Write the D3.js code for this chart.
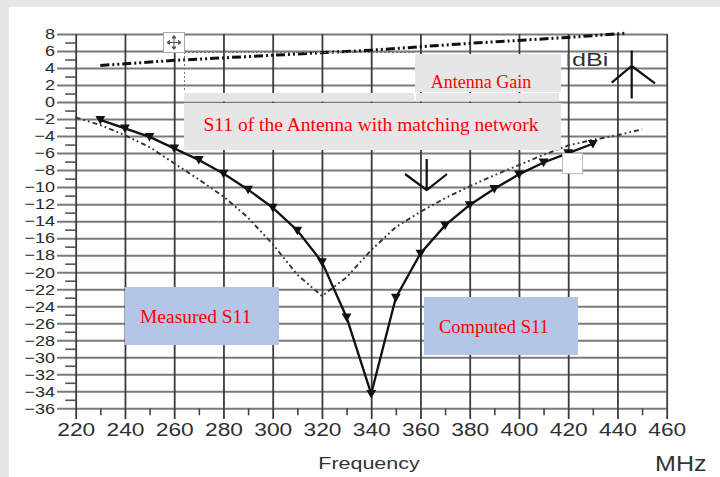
<!DOCTYPE html>
<html>
<head>
<meta charset="utf-8">
<script src="https://cdn.jsdelivr.net/npm/d3@7"></script>
<style>
  body { margin: 0; background: #e6e6e6; }
  svg { display: block; }
</style>
</head>
<body>
<div id="chart"></div>
<script>
// S11 / gain chart

// ticks
var freqTicks = [220, 240, 260, 280, 300, 320, 340, 360, 380, 400, 420, 440, 460];
var freqMinor = [230, 250, 270, 290, 310, 330, 350, 370, 390, 410, 430, 450];
var levelTicks = [8, 6, 4, 2, 0, -2, -4, -6, -8, -10, -12, -14, -16, -18, -20, -22, -24, -26, -28, -30, -32, -34, -36];
var levelMinor = [7, 5, 3, 1, -1, -3, -5, -7, -9, -11, -13, -15, -17, -19, -21, -23, -25, -27, -29, -31, -33, -35];

// computed S11 (solid, triangles)
var computedFreq = [230, 240, 250, 260, 270, 280, 290, 300, 310, 320, 330, 340, 350, 360, 370, 380, 390, 400, 410, 420, 430];
var computedS11 = [-2.1, -3.1, -4.1, -5.45, -6.8, -8.4, -10.3, -12.4, -15.1, -18.8, -25.3, -34.3, -23.0, -17.8, -14.5, -12.1, -10.2, -8.5, -7.1, -6.0, -4.9];

// measured S11 (dash dot dot)
var measuredFreq = [220, 230, 240, 250, 260, 270, 280, 290, 300, 310, 320, 330, 340, 350, 360, 370, 380, 390, 400, 410, 420, 430, 440, 450];
var measuredS11 = [-1.8, -2.7, -3.9, -5.3, -7.2, -9.1, -11.1, -13.6, -16.7, -20.3, -22.8, -20.6, -17.4, -14.7, -12.9, -11.3, -9.9, -8.6, -7.4, -6.2, -5.1, -4.45, -3.9, -3.2];

// antenna gain, dBi
var gainFreq = [230, 260, 300, 340, 380, 420, 444];
var gainDbi = [4.3, 4.9, 5.5, 6.1, 6.9, 7.6, 8.1];

var W = 720, H = 477;
var sansFont = "'Liberation Sans', Arial, sans-serif";
var serifFont = "'Liberation Serif', 'Times New Roman', serif";

var svg = d3.select("#chart").append("svg")
    .attr("width", W)
    .attr("height", H);

svg.append("rect").attr("width", W).attr("height", H).attr("fill", "#e6e6e6");
svg.append("rect").attr("x", 9).attr("y", 7).attr("width", W - 9).attr("height", H - 7).attr("fill", "#fff");

var x = d3.scaleLinear().domain([220, 460]).range([75.7, 666.7]);
var y = d3.scaleLinear().domain([-36, 8]).range([408.3, 34]);

// widen text like the original (its glyphs look stretched)
function stretch(sel, k) {
    sel.each(function () {
        var w = this.getComputedTextLength();
        d3.select(this).attr("textLength", w * k).attr("lengthAdjust", "spacingAndGlyphs");
    });
}

// horizontal grid + y labels
var gy = svg.append("g")
    .attr("transform", "translate(" + x(460) + ",0)")
    .call(d3.axisLeft(y).tickValues(levelTicks).tickSize(x(460) - 57).tickPadding(2));
gy.select(".domain").remove();
gy.selectAll("line").attr("stroke", "#7a7a7a").attr("stroke-width", 2);
gy.selectAll("text")
    .attr("fill", "#2a2a2a")
    .style("font-family", sansFont)
    .style("font-size", "15px")
    .call(stretch, 1.2);

// minor y ticks
var gym = svg.append("g")
    .attr("transform", "translate(" + x(220) + ",0)")
    .call(d3.axisLeft(y).tickValues(levelMinor).tickSize(10.5).tickFormat(""));
gym.select(".domain").remove();
gym.selectAll("line").attr("stroke", "#555").attr("stroke-width", 1.6);

// vertical grid + x labels
var gx = svg.append("g")
    .attr("transform", "translate(0," + y(8) + ")")
    .call(d3.axisBottom(x).tickValues(freqTicks).tickSize(419 - y(8)).tickPadding(5));
gx.select(".domain").remove();
gx.selectAll("line").attr("stroke", "#3c3c3c").attr("stroke-width", 1.8);
gx.selectAll("text")
    .attr("fill", "#2f2f2f")
    .style("font-family", sansFont)
    .style("font-size", "17.5px")
    .call(stretch, 1.3);

// minor x ticks
var gxm = svg.append("g")
    .attr("transform", "translate(0," + y(-36) + ")")
    .call(d3.axisBottom(x).tickValues(freqMinor).tickSize(7).tickFormat(""));
gxm.select(".domain").remove();
gxm.selectAll("line").attr("stroke", "#444").attr("stroke-width", 1.6);

// axis titles
svg.append("text")
    .attr("x", 369).attr("y", 468.5)
    .attr("text-anchor", "middle")
    .attr("fill", "#333")
    .style("font-family", sansFont)
    .style("font-size", "16px")
    .text("Frequency")
    .call(stretch, 1.34);

svg.append("text")
    .attr("x", 655).attr("y", 470.5)
    .attr("fill", "#333")
    .style("font-family", sansFont)
    .style("font-size", "22px")
    .text("MHz")
    .call(stretch, 1.14);

// curves
var gainLine = d3.line()
    .x(function (d, i) { return x(gainFreq[i]); })
    .y(function (d) { return y(d); });

svg.append("path")
    .attr("d", gainLine(gainDbi))
    .attr("fill", "none")
    .attr("stroke", "#111")
    .attr("stroke-width", 3)
    .attr("stroke-dasharray", "9,3,2,3,2,3");

var measLine = d3.line()
    .x(function (d, i) { return x(measuredFreq[i]); })
    .y(function (d) { return y(d); });

svg.append("path")
    .attr("d", measLine(measuredS11))
    .attr("fill", "none")
    .attr("stroke", "#333")
    .attr("stroke-width", 1.9)
    .attr("stroke-dasharray", "5,3,1.8,3,1.8,3");

var compLine = d3.line()
    .x(function (d, i) { return x(computedFreq[i]); })
    .y(function (d) { return y(d); });

svg.append("path")
    .attr("d", compLine(computedS11))
    .attr("fill", "none")
    .attr("stroke", "#111")
    .attr("stroke-width", 2.3);

var tri = d3.symbol().type(d3.symbolTriangle).size(42);
svg.append("g").selectAll("path")
    .data(computedS11)
    .enter().append("path")
    .attr("d", tri)
    .attr("transform", function (d, i) {
        return "translate(" + x(computedFreq[i]) + "," + (y(d) - 1) + ") rotate(180)";
    })
    .attr("fill", "#111");

// annotation boxes / frames
var ann = svg.append("g");

// dotted selection frame
ann.append("path")
    .attr("d", "M184,52.5H415M184.5,52V92")
    .attr("fill", "none")
    .attr("stroke", "#777")
    .attr("stroke-width", 1)
    .attr("stroke-dasharray", "2,2");

// move handle
ann.append("rect")
    .attr("x", 163.5).attr("y", 32.5).attr("width", 21).attr("height", 20)
    .attr("fill", "#fff").attr("stroke", "#aaa");
ann.append("path")
    .attr("d", "M174,36V49M167.5,42.5H180.5M174,35.5l-2,2.5h4zM174,49.5l-2,-2.5h4zM167,42.5l2.5,-2v4zM181,42.5l-2.5,-2v4z")
    .attr("fill", "#555").attr("stroke", "#555").attr("stroke-width", 1);

// gray boxes
ann.append("rect").attr("x", 415).attr("y", 54).attr("width", 146).attr("height", 38).attr("fill", "#e6e6e6");
ann.append("rect").attr("x", 184).attr("y", 93).attr("width", 230).attr("height", 8.5).attr("fill", "#e6e6e6");
ann.append("rect").attr("x", 416).attr("y", 93).attr("width", 143).attr("height", 8.5).attr("fill", "#e6e6e6");
ann.append("rect").attr("x", 184).attr("y", 103).attr("width", 377).attr("height", 47).attr("fill", "#e6e6e6");

ann.append("text")
    .attr("x", 481).attr("y", 87.5)
    .attr("text-anchor", "middle")
    .attr("fill", "#ff0000")
    .style("font-family", serifFont)
    .style("font-size", "18px")
    .text("Antenna Gain");

ann.append("text")
    .attr("x", 371).attr("y", 130.5)
    .attr("text-anchor", "middle")
    .attr("fill", "#ff0000")
    .style("font-family", serifFont)
    .style("font-size", "19.5px")
    .text("S11 of the Antenna with matching network");

// dBi unit
ann.append("line").attr("x1", 568.5).attr("x2", 568.5).attr("y1", 54).attr("y2", 66)
    .attr("stroke", "#555").attr("stroke-width", 2);
ann.append("text")
    .attr("x", 572).attr("y", 66)
    .attr("fill", "#333")
    .style("font-family", sansFont)
    .style("font-size", "18px")
    .text("dBi")
    .call(stretch, 1.4);

// small white square
ann.append("rect").attr("x", 562.5).attr("y", 153.5).attr("width", 20).attr("height", 20)
    .attr("fill", "#fff").attr("stroke", "#bbb");

// arrows
ann.append("path")
    .attr("d", "M631.7,50.5V98.5M611.7,82.7L631.7,66L655,83.3")
    .attr("fill", "none").attr("stroke", "#111").attr("stroke-width", 2.2);
ann.append("path")
    .attr("d", "M426.7,159V190M405,174L426.7,190L447,174")
    .attr("fill", "none").attr("stroke", "#111").attr("stroke-width", 2.2);

// blue label boxes
ann.append("rect").attr("x", 125).attr("y", 287).attr("width", 154).attr("height", 58).attr("fill", "#b4c6e7");
ann.append("text")
    .attr("x", 140).attr("y", 322.7)
    .attr("fill", "#ff0000")
    .style("font-family", serifFont)
    .style("font-size", "19.5px")
    .text("Measured S11");

ann.append("rect").attr("x", 424).attr("y", 297).attr("width", 154).attr("height", 58).attr("fill", "#b4c6e7");
ann.append("text")
    .attr("x", 439).attr("y", 332.7)
    .attr("fill", "#ff0000")
    .style("font-family", serifFont)
    .style("font-size", "18.5px")
    .text("Computed S11");
</script>
</body>
</html>
